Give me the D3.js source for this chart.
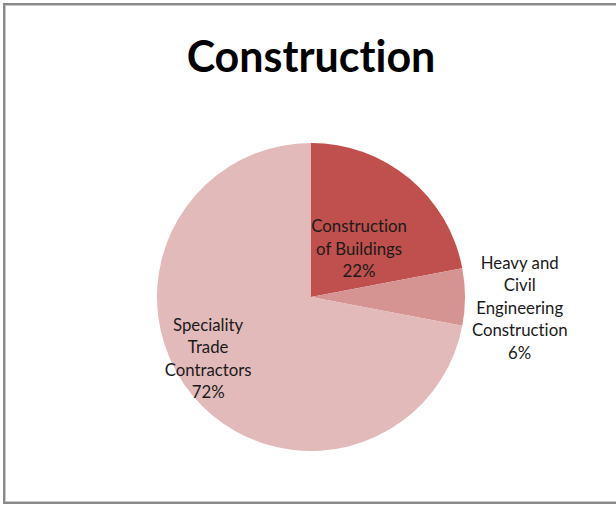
<!DOCTYPE html>
<html>
<head>
<meta charset="utf-8">
<script src="https://cdn.jsdelivr.net/npm/d3@7"></script>
<style>
  html, body { margin: 0; padding: 0; background: #fff; }
  svg { display: block; }
  text { font-variant-ligatures: none; font-feature-settings: "liga" 0, "clig" 0; }
</style>
</head>
<body>
<svg id="chart" width="616" height="506"></svg>
<script>
// Construction sector breakdown (share of total, %)
const title = "Construction";
const categories = [
  "Construction of Buildings",
  "Heavy and Civil Engineering Construction",
  "Speciality Trade Contractors"
];
const values = [22, 6, 72];
const labelLines = [
  ["Construction", "of Buildings"],
  ["Heavy and", "Civil", "Engineering", "Construction"],
  ["Speciality", "Trade", "Contractors"]
];
const colors = ["#C0504D", "#D59391", "#E2BABA"];

const svg = d3.select("#chart");
const W = 616, H = 506;
const font = "Lato, 'Open Sans', sans-serif";

// chart area frame
svg.append("rect")
  .attr("x", 4).attr("y", 4)
  .attr("width", W + 10).attr("height", H - 7)
  .attr("fill", "#fff")
  .attr("stroke", "#8a8a8a")
  .attr("stroke-width", 2);
svg.append("rect")
  .attr("x", 5.5).attr("y", 5.5)
  .attr("width", W + 10).attr("height", H - 10)
  .attr("fill", "none")
  .attr("stroke", "#c8c8c8")
  .attr("stroke-width", 1);

// title
svg.append("text")
  .attr("x", 311).attr("y", 72)
  .attr("text-anchor", "middle")
  .attr("font-family", font)
  .attr("font-weight", "bold")
  .attr("font-size", 43)
  .attr("fill", "#000")
  .text(title);

const cx = 311, cy = 297, R = 154;
const data = categories.map((c, i) => ({ category: c, value: values[i], lines: labelLines[i], color: colors[i] }));

const pie = d3.pie().sort(null).value(d => d.value);
const arc = d3.arc().innerRadius(0).outerRadius(R);
const arcs = pie(data);

const g = svg.append("g").attr("transform", `translate(${cx},${cy})`);

g.selectAll("path.slice")
  .data(arcs)
  .join("path")
  .attr("class", "slice")
  .attr("d", arc)
  .attr("fill", d => d.data.color);

// label placement: distance from centre and angle offset from the slice midpoint
const labelPlace = [
  { r: 68, dAngle: 5.4 },
  { r: 209, dAngle: 3 },
  { r: 120, dAngle: 8.6 }
];
const lineH = 22.5;

arcs.forEach((a, i) => {
  const mid = (a.startAngle + a.endAngle) / 2 + labelPlace[i].dAngle * Math.PI / 180;
  const lx = Math.sin(mid) * labelPlace[i].r;
  const ly = -Math.cos(mid) * labelPlace[i].r;
  const lines = a.data.lines.concat([Math.round(a.data.value) + "%"]);
  const top = ly - (lines.length - 1) * lineH / 2;
  const t = g.append("text")
    .attr("text-anchor", "middle")
    .attr("font-family", font)
    .attr("font-size", 16.8)
    .attr("fill", "#1a1a1a");
  lines.forEach((ln, k) => {
    t.append("tspan")
      .attr("x", lx)
      .attr("y", top + k * lineH)
      .attr("dy", "0.35em")
      .text(ln);
  });
});
</script>
</body>
</html>
